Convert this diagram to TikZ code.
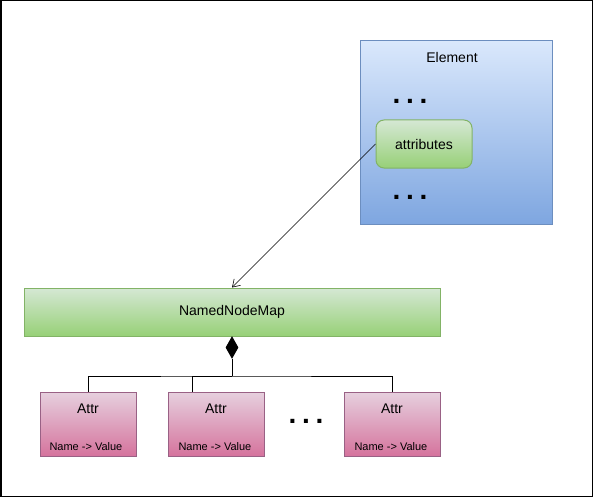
\documentclass[tikz,border=0pt]{standalone}
\usepackage{fontspec}
\setmainfont{Liberation Sans}
\usetikzlibrary{calc, shapes.geometric, arrows.meta}

\definecolor{blueTop}{HTML}{DAE8FC}
\definecolor{blueBot}{HTML}{7EA6E0}
\definecolor{blueLine}{HTML}{6C8EBF}
\definecolor{greenTop}{HTML}{D5E8D4}
\definecolor{greenBot}{HTML}{97D077}
\definecolor{greenLine}{HTML}{82B366}
\definecolor{pinkTop}{HTML}{E6D0DE}
\definecolor{pinkBot}{HTML}{D5739D}
\definecolor{pinkLine}{HTML}{996185}

\begin{document}
\begin{tikzpicture}[x=1pt, y=-1pt, line width=1pt,
    bluebox/.style={draw=blueLine, top color=blueTop, bottom color=blueBot, minimum width=192pt, minimum height=183pt, inner sep=0pt},
    greenbox/.style={draw=greenLine, top color=greenTop, bottom color=greenBot, minimum height=48pt, inner sep=0pt, font=\fontsize{14}{16}\selectfont},
    attrbox/.style={draw=pinkLine, top color=pinkTop, bottom color=pinkBot, minimum width=96pt, minimum height=64pt, inner sep=0pt},
    title/.style={font=\fontsize{14}{16}\selectfont},
    small/.style={font=\fontsize{11}{13}\selectfont, anchor=west, inner sep=0pt},
    dots/.style={font=\bfseries\fontsize{28}{28}\selectfont, inner sep=0pt}]
    \useasboundingbox (0,0) rectangle (593,497);
    % Outer frame
    \draw[line width=1.5pt] (0.75,0.75) rectangle (592.25,496.25);

    % Element with its attributes
    \node[bluebox] (elem) at (456,132.5) {};
    \node[title] (elemname) at (452,57) {Element};
    \node[dots] (dotsA) at (410,101) {.\hspace{5.7pt}.\hspace{5.7pt}.};
    \node[greenbox, rounded corners=8pt, minimum width=96pt] (attrs) at (424,144) {attributes};
    \node[dots] (dotsB) at (410,197) {.\hspace{5.7pt}.\hspace{5.7pt}.};

    % The map
    \node[greenbox, minimum width=416pt] (nnm) at (232,312) {NamedNodeMap};
    \draw[-{Straight Barb[length=7pt, width=9pt]}, line width=0.6pt] (attrs.west) -- (nnm.north);

    % Composition diamond
    \node[diamond, fill=black, draw=black, minimum width=12pt, minimum height=21pt, inner sep=0pt, anchor=north] (dia) at (nnm.south) {};
    \coordinate (bus) at (232,376);

    % Attr boxes
    \node[attrbox] (attrA) at (88,424) {};
    \node[attrbox] (attrB) at (216,424) {};
    \node[attrbox] (attrC) at (392,424) {};
    \foreach \n/\x in {attrA/88, attrB/216, attrC/392} {
        \node[title] at (\x,409) {Attr};
    }
    \node[small] (nvA) at (49,447) {Name -> Value};
    \node[small] (nvB) at (178,447) {Name -> Value};
    \node[small] (nvC) at (354,447) {Name -> Value};
    \node[dots] (dotsC) at (306,421) {.\hspace{5.7pt}.\hspace{5.7pt}.};

    % Connectors
    \draw (dia.south) -- (bus);
    \draw (attrA.north) |- (bus) -| (attrC.north);
    \draw ([xshift=-24pt]attrB.north) |- (bus);
\end{tikzpicture}
\end{document}
